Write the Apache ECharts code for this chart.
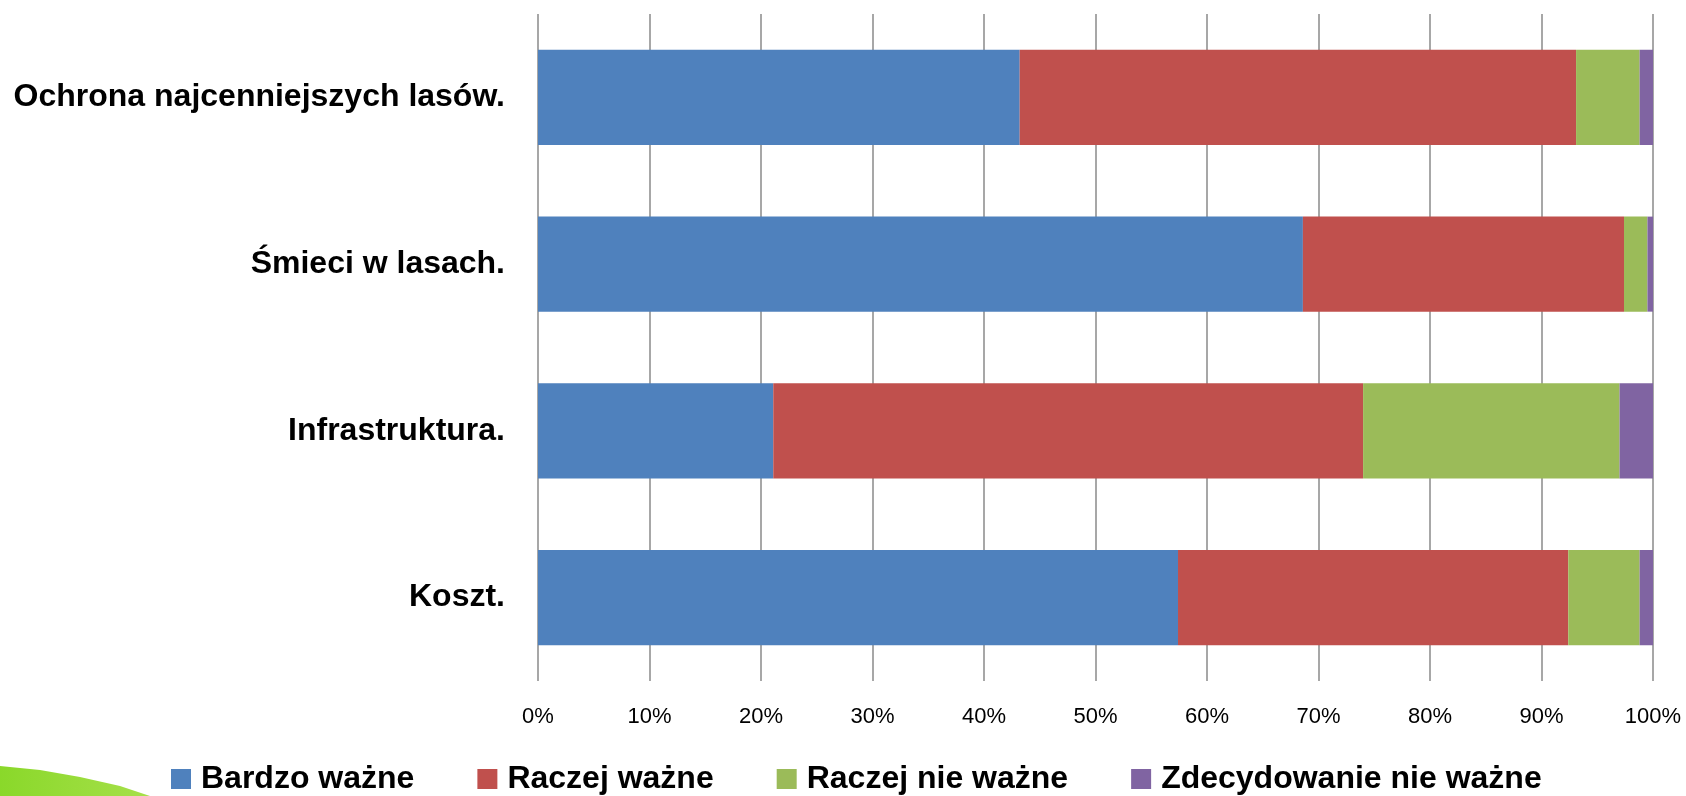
<!DOCTYPE html>
<html>
<head>
<meta charset="utf-8">
<script src="https://cdn.jsdelivr.net/npm/echarts@6/dist/echarts.min.js"></script>
<style>
html,body{margin:0;padding:0;background:#fff;}
#chart{width:1686px;height:796px;}
</style>
</head>
<body>
<div id="chart"></div>
<script>
const categories = ['Ochrona najcenniejszych lasów.', 'Śmieci w lasach.', 'Infrastruktura.', 'Koszt.'];
const seriesNames = ['Bardzo ważne', 'Raczej ważne', 'Raczej nie ważne', 'Zdecydowanie nie ważne'];
const bardzoWazne = [43.2, 68.6, 21.1, 57.4];
const raczejWazne = [49.9, 28.8, 52.9, 35.0];
const raczejNieWazne = [5.7, 2.1, 23.0, 6.4];
const zdecydowanieNieWazne = [1.2, 0.5, 3.0, 1.2];
const tickValues = [0, 10, 20, 30, 40, 50, 60, 70, 80, 90, 100];

const colors = ['#4F81BD', '#C0504D', '#9BBB59', '#8064A2'];
const seriesData = [bardzoWazne, raczejWazne, raczejNieWazne, zdecydowanieNieWazne];

const chart = echarts.init(document.getElementById('chart'), null, {renderer: 'canvas'});
const font = '"Liberation Sans", Arial, sans-serif';

chart.setOption({
  animation: false,
  backgroundColor: '#ffffff',
  color: colors,
  graphic: [{
    type: 'polygon',
    z: -1,
    shape: { points: [[0, 766], [40, 770], [80, 777], [120, 786], [150, 796], [0, 796]] },
    style: {
      fill: new echarts.graphic.LinearGradient(0, 0, 1, 0, [
        { offset: 0, color: '#8ad82a' },
        { offset: 1, color: '#a6e04a' }
      ])
    }
  }],
  grid: { left: 538, right: 33, top: 14, bottom: 115, containLabel: false },
  legend: {
    data: seriesNames,
    left: 166,
    top: 758,
    itemWidth: 20,
    itemHeight: 20,
    itemGap: 63,
    icon: 'rect',
    textStyle: {
      fontFamily: font,
      fontWeight: 'bold',
      fontSize: 32,
      color: '#000',
      lineHeight: 32,
      padding: [0, 0, 0, 5]
    }
  },
  xAxis: {
    type: 'value',
    min: tickValues[0],
    max: tickValues[tickValues.length - 1],
    interval: 10,
    axisLine: { show: false },
    axisTick: { show: false },
    axisLabel: {
      formatter: '{value}%',
      fontFamily: font,
      fontSize: 22,
      color: '#000',
      margin: 25
    },
    splitLine: { show: true, lineStyle: { color: '#8a8a8a', width: 1.5 } }
  },
  yAxis: {
    type: 'category',
    data: categories,
    inverse: true,
    axisLine: { show: false },
    axisTick: { show: false },
    axisLabel: {
      fontFamily: font,
      fontWeight: 'bold',
      fontSize: 32,
      color: '#000',
      margin: 33
    }
  },
  series: seriesNames.map((name, i) => ({
    name: name,
    type: 'bar',
    stack: 'total',
    barWidth: '57%',
    data: seriesData[i],
    itemStyle: { color: colors[i] }
  }))
});
</script>
</body>
</html>
